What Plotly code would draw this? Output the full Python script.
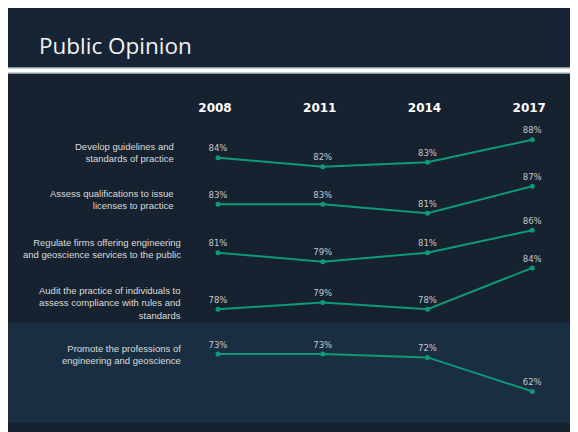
import plotly.graph_objects as go

# ---------------- data ----------------
years = [2008, 2011, 2014, 2017]
row_labels = [
    "Develop guidelines and<br>standards of practice",
    "Assess qualifications to issue<br>licenses to practice",
    "Regulate firms offering engineering<br>and geoscience services to the public",
    "Audit the practice of individuals to<br>assess compliance with rules and<br>standards",
    "Promote the professions of<br>engineering and geoscience",
]
develop_guidelines = [84, 82, 83, 88]
assess_qualifications = [83, 83, 81, 87]
regulate_firms = [81, 79, 81, 86]
audit_practice = [78, 79, 78, 84]
promote_professions = [73, 73, 72, 62]
series = [develop_guidelines, assess_qualifications, regulate_firms,
          audit_practice, promote_professions]
title_text = "Public Opinion"

# ---------------- layout constants (pixels, in page coordinates) ----------------
OFF = 8                      # page body margin
W, H = 578 - OFF, 432 - OFF  # figure size
GREEN = "#0f9a77"
# per-row vertical anchors: (pixel y of first point, pixels per percentage point)
row_anchor = [(157.7, 4.5), (204.3, 4.5), (252.7, 4.5), (309.3, 6.9), (354.0, 3.4)]
label_right = [176, 176, 183, 183, 183]
label_center = [152.3, 199.5, 248.0, 303.3, 354.8]
x_first_px, x_step_px = 218.0, 104.75


def px_x(x):
    return (x - OFF) / W


def px_y(y):
    return 1 - (y - OFF) / H


fig = go.Figure()

layout_axes = {}
for i, vals in enumerate(series):
    p0, s = row_anchor[i]
    p0 -= OFF
    v0 = vals[0]
    top = v0 + p0 / s
    bottom = v0 - (H - p0) / s
    name = "yaxis" if i == 0 else f"yaxis{i+1}"
    ax = dict(range=[bottom, top], visible=False, domain=[0, 1], fixedrange=True)
    if i > 0:
        ax["overlaying"] = "y"
    layout_axes[name] = ax
    fig.add_trace(go.Scatter(
        x=years, y=vals,
        yaxis="y" if i == 0 else f"y{i+1}",
        mode="lines+markers+text",
        line=dict(color=GREEN, width=2),
        marker=dict(color=GREEN, size=5),
        text=[f"{v}%" for v in vals],
        textposition="top center",
        textfont=dict(family="DejaVu Sans", size=8.5, color="#c3c7cc"),
        cliponaxis=False,
        hoverinfo="skip",
        showlegend=False,
    ))

yr_per_px = (years[1] - years[0]) / x_step_px
x0 = years[0] - (x_first_px - OFF) * yr_per_px
x1 = x0 + W * yr_per_px

shapes = [
    # title band
    dict(type="rect", xref="paper", yref="paper", x0=0, x1=1,
         y0=px_y(67), y1=1, fillcolor="#172435", line_width=0, layer="below"),
    # main panel
    dict(type="rect", xref="paper", yref="paper", x0=0, x1=1,
         y0=0, y1=px_y(67), fillcolor="#16222f", line_width=0, layer="below"),
    # highlighted band
    dict(type="rect", xref="paper", yref="paper", x0=0, x1=1,
         y0=px_y(423), y1=px_y(323), fillcolor="#1a2e41", line_width=0, layer="below"),
    # separator
    dict(type="rect", xref="paper", yref="paper", x0=0, x1=1,
         y0=px_y(74), y1=px_y(67), fillcolor="#8e98a3", line_width=0, layer="below"),
    dict(type="rect", xref="paper", yref="paper", x0=0, x1=1,
         y0=px_y(72.5), y1=px_y(68.5), fillcolor="#ffffff", line_width=0, layer="below"),
]

annotations = [
    dict(text=title_text, xref="paper", yref="paper", x=px_x(37), y=px_y(45),
         xanchor="left", yanchor="middle", showarrow=False,
         font=dict(family="Open Sans", size=22.5, color="#f2f2f2")),
]
for i, lab in enumerate(row_labels):
    annotations.append(dict(
        text=lab, xref="paper", yref="paper",
        x=px_x(label_right[i]), y=px_y(label_center[i]),
        xanchor="right", yanchor="middle", align="right", showarrow=False,
        font=dict(family="Liberation Sans", size=9.5, color="#dcdcdc"),
    ))

fig.update_layout(
    width=W, height=H,
    margin=dict(l=0, r=0, t=0, b=0),
    paper_bgcolor="#16222f",
    plot_bgcolor="rgba(0,0,0,0)",
    shapes=shapes,
    annotations=annotations,
    xaxis=dict(range=[x0, x1], tickvals=years, ticktext=[str(y) for y in years],
               side="top", anchor="free", position=px_y(114),
               showgrid=False, zeroline=False, showline=False, ticks="",
               ticklabelshift=-3,
               tickfont=dict(family="DejaVu Sans", size=12, color="#ffffff", weight="bold"),
               fixedrange=True),
    **layout_axes,
)

fig.write_html("out.html")
